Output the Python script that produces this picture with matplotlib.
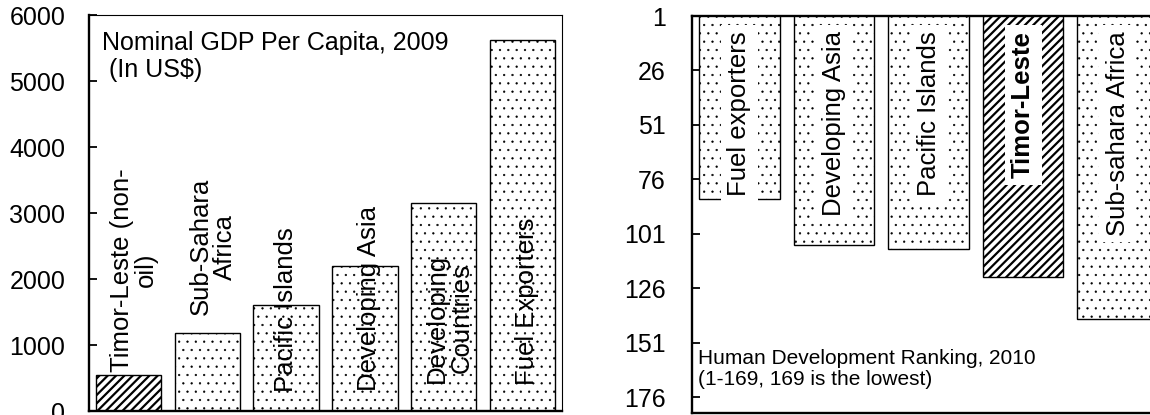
# --- External Imports ---
import matplotlib
matplotlib.use( "Agg" )
import matplotlib.pyplot as pyplot


pyplot.rcParams["font.family"] = [ "Liberation Sans", "DejaVu Sans" ]
pyplot.rcParams["hatch.linewidth"] = 0.4

# --- Data ---
gdpLabels = [
    "Timor-Leste (non-\noil)",
    "Sub-Sahara\nAfrica",
    "Pacific Islands",
    "Developing Asia",
    "Developing\nCountries",
    "Fuel Exporters"
]
gdpValues = [ 550, 1180, 1600, 2200, 3150, 5620 ]
gdpTicks = [ 0, 1000, 2000, 3000, 4000, 5000, 6000 ]

hdiLabels = [ "Fuel exporters", "Developing Asia", "Pacific Islands", "Timor-Leste", "Sub-sahara Africa" ]
hdiRanks = [ 85, 106, 108, 121, 140 ]
hdiTicks = [ 1, 26, 51, 76, 101, 126, 151, 176 ]

# label placement (text boxes were placed by hand in the original)
gdpLabelCenters = [ 2140, 2490, 1530, 1710, 1410, 1660 ]
gdpLabelShift = [ 0.07, 0.07, 0.0, 0.05, 0.07, 0.05 ]


def styleSpines( axis, thick, thin ):
    for name in thick:
        axis.spines[name].set_linewidth( 1.7 )
    for name in thin:
        axis.spines[name].set_linewidth( 0.8 )


def hatchBars( bars, labels ):
    for index, bar in enumerate( bars ):
        if labels[index].startswith( "Timor" ):
            bar.set_hatch( "////" )
            if hasattr( bar, "set_hatch_linewidth" ):
                bar.set_hatch_linewidth( 1.6 )
        else:
            bar.set_hatch( ".." )


if __name__ == "__main__":

    figure = pyplot.figure( figsize=(11.5, 4.15), dpi=100 )

    # --- Left: GDP per capita ---
    axis = figure.add_axes( [89/1150, 4/415, 473/1150, 396/415] )
    positions = range( len(gdpValues) )
    bars = axis.bar(
        positions, gdpValues,
        width=0.83,
        color="white",
        edgecolor="black",
        linewidth=1.0
    )
    hatchBars( bars, gdpLabels )

    for index, label in enumerate( gdpLabels ):
        axis.text(
            index + gdpLabelShift[index], gdpLabelCenters[index], label,
            rotation=90, ha="center", va="center", multialignment="center",
            fontsize=18.5, linespacing=1.0
        )

    axis.text(
        0.0275, 0.96, "Nominal GDP Per Capita, 2009\n (In US$)",
        transform=axis.transAxes, ha="left", va="top",
        fontsize=18, linespacing=1.15
    )

    axis.set_xlim( -0.5, len(gdpValues) - 0.5 )
    axis.set_ylim( 0, 6000 )
    axis.set_yticks( gdpTicks )
    axis.set_xticks( [] )
    axis.tick_params( axis="y", direction="in", length=6, width=1.3, labelsize=18, pad=17 )
    styleSpines( axis, ["left", "bottom"], ["top", "right"] )

    # --- Right: Human development ranking ---
    axis = figure.add_axes( [692/1150, 2/415, 473/1150, 397/415] )
    positions = range( len(hdiRanks) )
    bars = axis.bar(
        positions, hdiRanks,
        width=0.85,
        color="white",
        edgecolor="black",
        linewidth=1.0
    )
    hatchBars( bars, hdiLabels )

    for index, label in enumerate( hdiLabels ):
        axis.text(
            index, 8, label,
            rotation=90, ha="center", va="top",
            fontsize=18.5,
            fontweight="bold" if label.startswith( "Timor" ) else "normal",
            bbox=dict( boxstyle="square,pad=0.25", facecolor="white", edgecolor="none" ),
            clip_on=True, zorder=2.4
        )

    axis.text(
        0.013, 0.161, "Human Development Ranking, 2010\n(1-169, 169 is the lowest)",
        transform=axis.transAxes, ha="left", va="top",
        fontsize=15, linespacing=1.1
    )

    axis.set_xlim( -0.5, len(hdiRanks) - 0.5 )
    axis.set_ylim( 183.2, 1 )
    axis.set_yticks( hdiTicks )
    axis.set_xticks( [] )
    axis.tick_params( axis="y", direction="in", length=6, width=1.3, labelsize=18, pad=19 )
    styleSpines( axis, ["left", "top", "bottom"], ["right"] )

    figure.savefig( "out.png", dpi=100 )
